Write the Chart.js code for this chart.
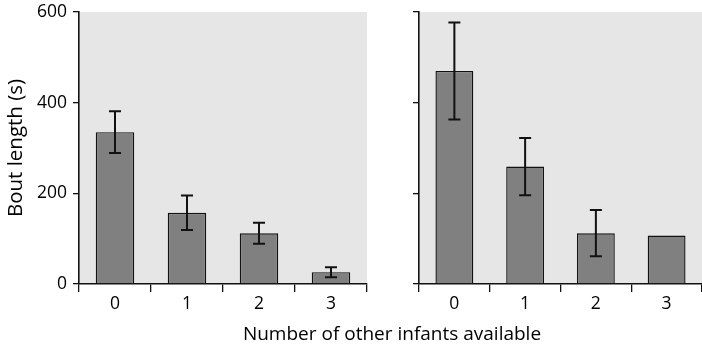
<!DOCTYPE html>
<html>
<head>
<meta charset="utf-8">
<script src="https://cdn.jsdelivr.net/npm/chart.js@4"></script>
<style>
	body { margin: 0; background: #fff; }
	#wrap { position: relative; width: 702px; height: 349px; }
	#leftChart { position: absolute; left: 0; top: 0; }
	#rightChart { position: absolute; left: 370px; top: 0; }
	#xTitle {
		position: absolute; left: 0; top: 320px; width: 784px;
		text-align: center; font: 19px "Open Sans", sans-serif; color: #000;
	}
</style>
</head>
<body>
<div id="wrap">
	<canvas id="leftChart" width="370" height="349"></canvas>
	<canvas id="rightChart" width="332" height="349"></canvas>
	<div id="xTitle">Number of other infants available</div>
</div>
<script>
// values
var categories = ['0', '1', '2', '3'];
var leftMeans = [335, 157, 112, 26];
var leftErrors = [46, 38, 23, 11];
var rightMeans = [470, 259, 112, 107];
var rightErrors = [107, 63, 51, 0];
var yMin = 0, yMax = 600, yStep = 200;

(function () {
	'use strict';

	var ink = '#111';
	var tickFont = { family: 'Open Sans', size: 17.5 };

	var plotBg = {
		id: 'plotBg',
		beforeDraw: function (chart) {
			var a = chart.chartArea, ctx = chart.ctx;
			ctx.save();
			ctx.fillStyle = '#e6e6e6';
			ctx.fillRect(a.left, a.top, a.right - a.left, a.bottom - a.top);
			ctx.restore();
		}
	};

	var errorBars = {
		id: 'errorBars',
		afterDatasetsDraw: function (chart, args, opts) {
			var meta = chart.getDatasetMeta(0);
			var y = chart.scales.y, ctx = chart.ctx;
			var means = chart.data.datasets[0].data;
			ctx.save();
			ctx.strokeStyle = ink;
			ctx.lineWidth = 2;
			meta.data.forEach(function (bar, i) {
				var e = opts.errors[i];
				if (!e) {
					return;
				}
				var top = y.getPixelForValue(means[i] + e),
					bot = y.getPixelForValue(means[i] - e);
				ctx.beginPath();
				ctx.moveTo(bar.x, top);
				ctx.lineTo(bar.x, bot);
				ctx.moveTo(bar.x - 6, top);
				ctx.lineTo(bar.x + 6, top);
				ctx.moveTo(bar.x - 6, bot);
				ctx.lineTo(bar.x + 6, bot);
				ctx.stroke();
			});
			ctx.restore();
		}
	};

	function makeChart(id, means, errors, axisWidth, showLabels, padRight) {
		return new Chart(document.getElementById(id), {
			type: 'bar',
			data: {
				labels: categories,
				datasets: [{
					data: means,
					backgroundColor: '#808080',
					borderColor: ink,
					borderWidth: 1.4,
					barPercentage: 0.535,
					categoryPercentage: 1
				}]
			},
			options: {
				responsive: false,
				animation: false,
				layout: { padding: { top: 12, right: padRight, bottom: 0, left: 0 } },
				plugins: {
					legend: { display: false },
					tooltip: { enabled: false },
					errorBars: { errors: errors }
				},
				scales: {
					x: {
						afterFit: function (scale) { scale.height = 65; },
						grid: { drawOnChartArea: false, tickLength: 8, color: ink, lineWidth: 1.3 },
						border: { color: ink, width: 1.6 },
						ticks: { color: '#000', font: tickFont, padding: 2 }
					},
					y: {
						min: yMin,
						max: yMax,
						afterFit: function (scale) {
							// same plot box in both panels, whatever the labels need
							scale.width = axisWidth;
							scale.paddingTop = 0;
							scale.paddingBottom = 0;
						},
						grid: { drawOnChartArea: false, tickLength: 6, color: ink, lineWidth: 1.3 },
						border: { color: ink, width: 1.6 },
						ticks: { stepSize: yStep, display: showLabels, color: '#000', font: tickFont, padding: 6 },
						title: {
							display: showLabels,
							text: 'Bout length (s)',
							color: '#000',
							font: { family: 'Open Sans', size: 20.5 },
							padding: { top: 4, bottom: 0 }
						}
					}
				}
			},
			plugins: [plotBg, errorBars]
		});
	}

	makeChart('leftChart', leftMeans, leftErrors, 79, true, 3);
	makeChart('rightChart', rightMeans, rightErrors, 49, false, 0);
})();
</script>
</body>
</html>
